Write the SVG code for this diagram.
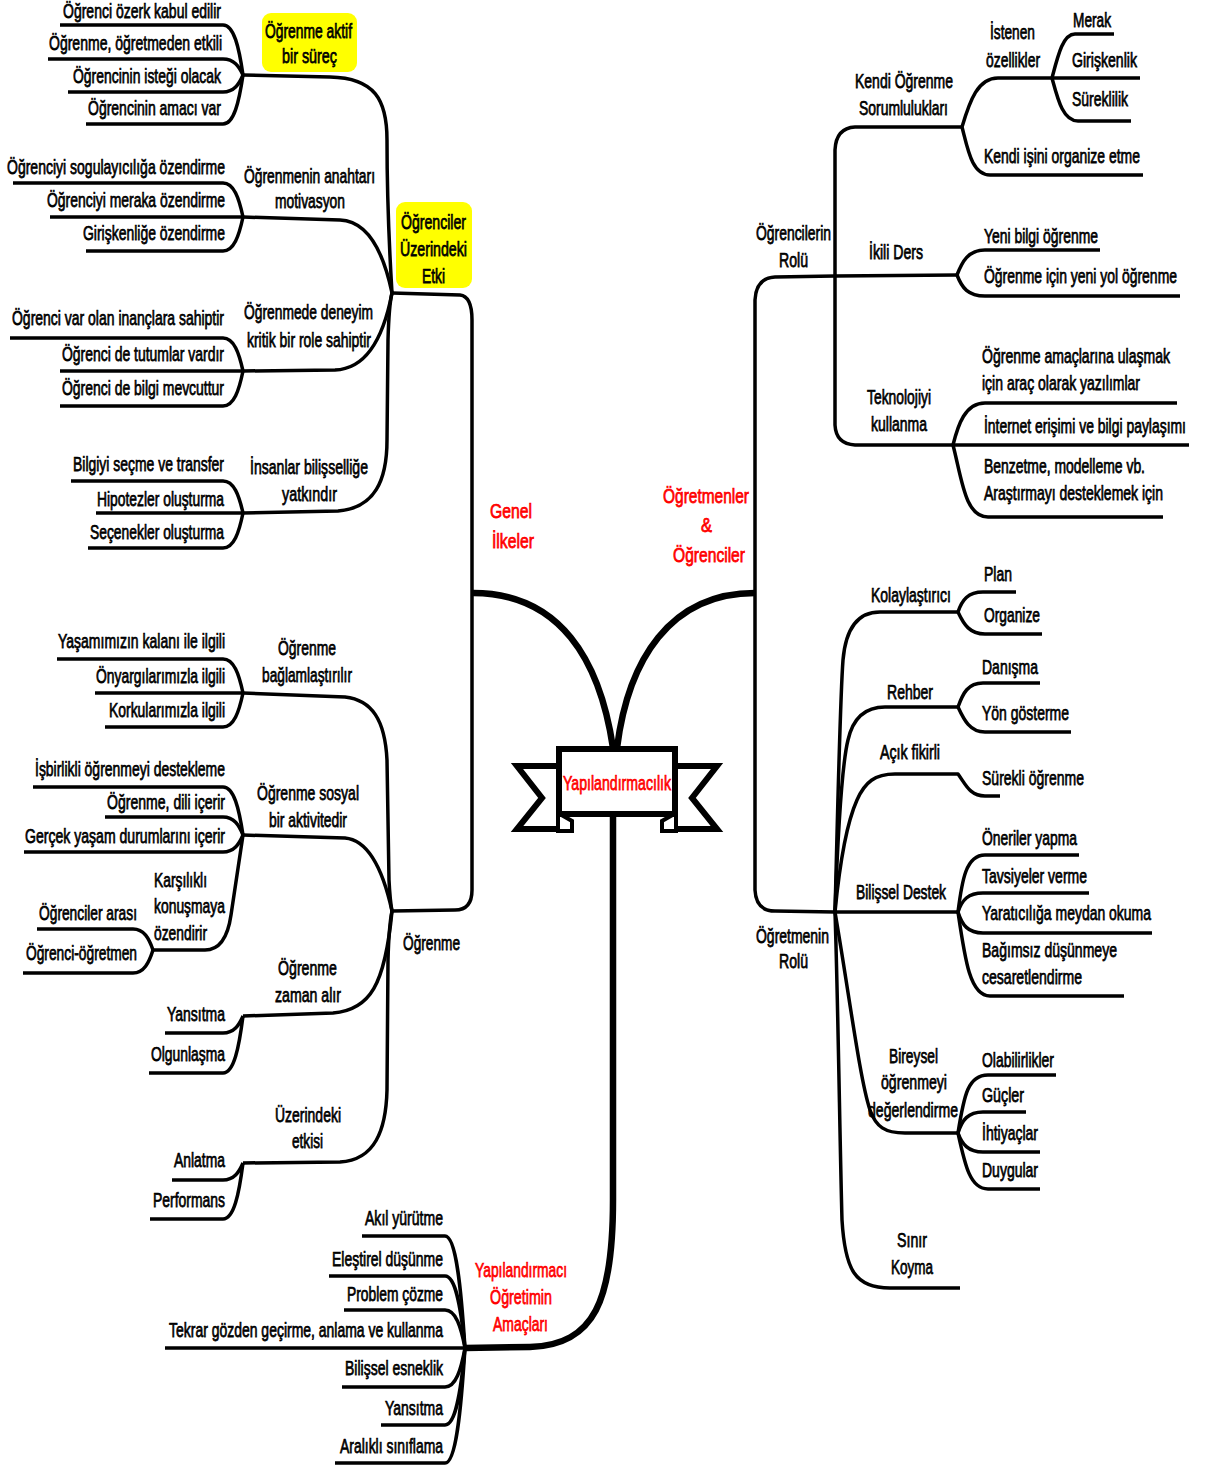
<svg xmlns="http://www.w3.org/2000/svg" width="1214" height="1465" viewBox="0 0 1214 1465">
<style>
  .t { font-family: "Liberation Sans", Arial, sans-serif; font-size: 20.5px; fill: #000; stroke: #000; stroke-width: 0.75px; }
  .r { fill: #f00; stroke: #f00; }
  .c { fill: none; stroke: #000; stroke-width: 3.5; stroke-linejoin: round; }
  .k { fill: none; stroke: #000; stroke-width: 6.5; }
  .hl { fill: #ff0; }
  .tail { fill: #fff; stroke: #000; stroke-width: 6; stroke-linejoin: miter; }
  .fold { fill: #fff; stroke: #000; stroke-width: 4; }
</style>
<rect width="1214" height="1465" fill="#fff"/>

<!-- connectors -->
<g id="connectors">
  <!-- thick main branches -->
  <path class="k" d="M473,593 C560,593 600,660 613,748"/>
  <path class="k" d="M755,593 C670,593 628,660 617,748"/>
  <path class="k" d="M613,815 L613,1200 C613,1300 595,1345 530,1347 L465,1348"/>

  <!-- Genel İlkeler spine -->
  <path class="c" d="M392,293 L460,295 C469,296 472,305 472,320 L472,890 C472,904 466,910 455,910 L392,911"/>

  <!-- Öğrenciler Üzerindeki Etki -->
  <path class="c" d="M243,75 L330,77 C375,78 387,100 387,140 C387,200 390,260 392,293"/>
  <path class="c" d="M243,217 L340,220 C365,221 382,245 392,293"/>
  <path class="c" d="M243,371 L335,370 C365,369 383,340 392,293"/>
  <path class="c" d="M243,513 L338,511 C375,508 387,480 387,440 L388,340 Q389,305 392,293"/>

  <path class="c" d="M60,25 H223 C234,25 239,47.5 243,75"/>
  <path class="c" d="M48,59 H223 C234,59 239,66.2 243,75"/>
  <path class="c" d="M68,92 H223 C234,92 239,84.4 243,75"/>
  <path class="c" d="M86,124 H223 C234,124 239,101.9 243,75"/>

  <path class="c" d="M13,183 H223 C234,183 239,198.3 243,217"/>
  <path class="c" d="M50,217 H243"/>
  <path class="c" d="M86,251 H223 C234,251 239,235.7 243,217"/>

  <path class="c" d="M10,338 H223 C234,338 239,352.9 243,371"/>
  <path class="c" d="M60,371 H243"/>
  <path class="c" d="M60,406 H223 C234,406 239,390.3 243,371"/>

  <path class="c" d="M71,481 H223 C234,481 239,495.4 243,513"/>
  <path class="c" d="M96,513 H243"/>
  <path class="c" d="M88,548 H223 C234,548 239,532.3 243,513"/>

  <!-- Öğrenme -->
  <path class="c" d="M243,693 L345,697 C372,700 385,720 387,760 L389,880 Q390,900 392,911"/>
  <path class="c" d="M243,835 L345,838 C368,840 383,870 392,911"/>
  <path class="c" d="M243,1016 L333,1013 C370,1010 385,985 392,911"/>
  <path class="c" d="M243,1163 L340,1162 C375,1160 386,1130 387,1090 L388,960 Q389,925 392,911"/>

  <path class="c" d="M57,659 H223 C234,659 239,674.3 243,693"/>
  <path class="c" d="M95,693 H243"/>
  <path class="c" d="M105,727 H223 C234,727 239,711.7 243,693"/>

  <path class="c" d="M33,787 H223 C234,787 239,808.6 243,835"/>
  <path class="c" d="M105,817 H223 C234,817 239,825.1 243,835"/>
  <path class="c" d="M24,852 H223 C234,852 239,844.4 243,835"/>
  <path class="c" d="M243,835 L231,915 Q226,950 205,950 L153,950"/>
  <path class="c" d="M37,929 H133 C144,929 149,938.5 153,950"/>
  <path class="c" d="M23,973 H133 C144,973 149,962.7 153,950"/>

  <path class="c" d="M165,1033 H223 C234,1033 239,1025.4 243,1016"/>
  <path class="c" d="M149,1073 H223 C234,1073 239,1047.4 243,1016"/>

  <path class="c" d="M172,1180 H223 C234,1180 239,1172.4 243,1163"/>
  <path class="c" d="M150,1219 H223 C234,1219 239,1193.8 243,1163"/>

  <!-- Yapılandırmacı Öğretimin Amaçları -->
  <path class="c" d="M362,1236 H445 C456,1236 461,1286.4 465,1348"/>
  <path class="c" d="M329,1276 H445 C456,1276 461,1308.4 465,1348"/>
  <path class="c" d="M344,1310 H445 C456,1310 461,1327.1 465,1348"/>
  <path class="c" d="M165,1348 H465"/>
  <path class="c" d="M342,1387 H445 C456,1387 461,1369.5 465,1348"/>
  <path class="c" d="M381,1425 H445 C456,1425 461,1390.4 465,1348"/>
  <path class="c" d="M335,1463 H445 C456,1463 461,1411.3 465,1348"/>

  <!-- Öğretmenler & Öğrenciler spine -->
  <path class="c" d="M835,276 L775,277 Q756,278 755,300 L755,890 Q756,911 775,911 L835,912"/>

  <!-- Öğrencilerin Rolü -->
  <path class="c" d="M963,127 L855,127 Q836,128 835,150 L835,425 Q836,444 855,445 L953,445"/>
  <path class="c" d="M835,276 L957,275"/>
  <path class="c" d="M962,127 C970,100 978,78 998,78 L1140,78"/>
  <path class="c" d="M1052,78 C1058,55 1063,34 1075,34 L1114,34"/>
  <path class="c" d="M1052,78 C1058,100 1063,121 1078,121 L1131,121"/>
  <path class="c" d="M962,127 C968,150 972,175 990,175 L1143,175"/>
  <path class="c" d="M957,275 C962,262 968,250 985,250 L1100,250"/>
  <path class="c" d="M957,275 C962,288 968,296 985,296 L1180,296"/>
  <path class="c" d="M953,445 C958,425 965,403 985,403 L1177,403"/>
  <path class="c" d="M953,445 L1189,445"/>
  <path class="c" d="M953,445 C962,480 965,517 988,517 L1163,517"/>

  <!-- Öğretmenin Rolü -->
  <path class="c" d="M835,912 C838,800 840,700 843,660 C846,625 860,612 880,612 L958,612"/>
  <path class="c" d="M958,612 C962,600 968,592 983,592 L1016,592"/>
  <path class="c" d="M958,612 C964,625 970,634 985,634 L1042,634"/>
  <path class="c" d="M835,912 C838,830 843,760 848,740 C853,718 865,707 885,707 L958,707"/>
  <path class="c" d="M958,707 C963,693 968,683 983,683 L1040,683"/>
  <path class="c" d="M958,707 C964,720 970,732 985,732 L1071,732"/>
  <path class="c" d="M835,912 C840,860 848,820 857,800 C865,782 875,774 895,774 L958,774 C966,785 970,796 985,796 L1000,796"/>
  <path class="c" d="M835,912 L958,912"/>
  <path class="c" d="M958,912 C962,880 966,855 985,855 L1079,855"/>
  <path class="c" d="M958,912 C962,900 968,893 983,893 L1089,893"/>
  <path class="c" d="M958,912 C962,925 968,933 983,933 L1152,933"/>
  <path class="c" d="M958,912 C965,960 970,996 990,996 L1124,996"/>
  <path class="c" d="M835,912 C850,1000 860,1080 870,1110 C876,1127 885,1133 905,1133 L958,1133"/>
  <path class="c" d="M958,1133 C964,1095 968,1075 988,1075 L1056,1075"/>
  <path class="c" d="M958,1133 C962,1120 968,1112 983,1112 L1026,1112"/>
  <path class="c" d="M958,1133 C962,1144 968,1152 983,1152 L1040,1152"/>
  <path class="c" d="M958,1133 C965,1165 970,1189 988,1189 L1040,1189"/>
  <path class="c" d="M835,912 C838,1000 840,1150 842,1220 C845,1270 855,1288 890,1288 L960,1288"/>
</g>

<!-- central banner -->
<g id="root">
  <polygon class="tail" points="517,766 560,766 560,829 517,829 542,798"/>
  <polygon class="tail" points="717,766 674,766 674,829 717,829 692,798"/>
  <polygon class="fold" points="558,813 572,821 572,831 558,831"/>
  <polygon class="fold" points="676,813 662,821 662,831 676,831"/>
  <rect x="559" y="749" width="116" height="65" fill="#fff" stroke="#000" stroke-width="6"/>
  <text class="t r" x="563" y="790" textLength="108" lengthAdjust="spacingAndGlyphs">Yapılandırmacılık</text>
</g>

<!-- main branch titles -->
<g id="genel-ilkeler">
  <text class="t r" x="490" y="518" textLength="42" lengthAdjust="spacingAndGlyphs">Genel</text>
  <text class="t r" x="492" y="548" textLength="42" lengthAdjust="spacingAndGlyphs">İlkeler</text>
</g>
<g id="ogretmenler-ogrenciler">
  <text class="t r" x="663" y="503" textLength="86" lengthAdjust="spacingAndGlyphs">Öğretmenler</text>
  <text class="t r" x="701" y="532" textLength="11" lengthAdjust="spacingAndGlyphs">&amp;</text>
  <text class="t r" x="673" y="562" textLength="72" lengthAdjust="spacingAndGlyphs">Öğrenciler</text>
</g>
<g id="amaclar">
  <text class="t r" x="475" y="1277" textLength="92" lengthAdjust="spacingAndGlyphs">Yapılandırmacı</text>
  <text class="t r" x="490" y="1304" textLength="62" lengthAdjust="spacingAndGlyphs">Öğretimin</text>
  <text class="t r" x="493" y="1331" textLength="55" lengthAdjust="spacingAndGlyphs">Amaçları</text>
</g>

<!-- Öğrenciler Üzerindeki Etki -->
<g id="ogrenciler-uzerindeki-etki">
  <rect class="hl" x="396" y="202" width="76" height="86" rx="9"/>
  <text class="t" x="401" y="229" textLength="65" lengthAdjust="spacingAndGlyphs">Öğrenciler</text>
  <text class="t" x="400" y="256" textLength="67" lengthAdjust="spacingAndGlyphs">Üzerindeki</text>
  <text class="t" x="422" y="283" textLength="23" lengthAdjust="spacingAndGlyphs">Etki</text>
</g>
<g id="ogrenme-aktif">
  <rect class="hl" x="262" y="13" width="95" height="59" rx="9"/>
  <text class="t" x="265" y="38" textLength="87" lengthAdjust="spacingAndGlyphs">Öğrenme aktif</text>
  <text class="t" x="282" y="63" textLength="55" lengthAdjust="spacingAndGlyphs">bir süreç</text>
</g>
<g id="aktif-1"><text class="t" x="63" y="18" textLength="158" lengthAdjust="spacingAndGlyphs">Öğrenci özerk kabul edilir</text></g>
<g id="aktif-2"><text class="t" x="49" y="50" textLength="173" lengthAdjust="spacingAndGlyphs">Öğrenme, öğretmeden etkili</text></g>
<g id="aktif-3"><text class="t" x="73" y="83" textLength="148" lengthAdjust="spacingAndGlyphs">Öğrencinin isteği olacak</text></g>
<g id="aktif-4"><text class="t" x="88" y="115" textLength="133" lengthAdjust="spacingAndGlyphs">Öğrencinin amacı var</text></g>

<g id="motivasyon">
  <text class="t" x="244" y="183" textLength="131" lengthAdjust="spacingAndGlyphs">Öğrenmenin anahtarı</text>
  <text class="t" x="275" y="208" textLength="70" lengthAdjust="spacingAndGlyphs">motivasyon</text>
</g>
<g id="motiv-1"><text class="t" x="7" y="174" textLength="218" lengthAdjust="spacingAndGlyphs">Öğrenciyi sogulayıcılığa özendirme</text></g>
<g id="motiv-2"><text class="t" x="47" y="207" textLength="178" lengthAdjust="spacingAndGlyphs">Öğrenciyi meraka özendirme</text></g>
<g id="motiv-3"><text class="t" x="83" y="240" textLength="142" lengthAdjust="spacingAndGlyphs">Girişkenliğe özendirme</text></g>

<g id="deneyim">
  <text class="t" x="244" y="319" textLength="129" lengthAdjust="spacingAndGlyphs">Öğrenmede deneyim</text>
  <text class="t" x="247" y="347" textLength="124" lengthAdjust="spacingAndGlyphs">kritik bir role sahiptir</text>
</g>
<g id="deneyim-1"><text class="t" x="12" y="325" textLength="212" lengthAdjust="spacingAndGlyphs">Öğrenci var olan inançlara sahiptir</text></g>
<g id="deneyim-2"><text class="t" x="62" y="361" textLength="162" lengthAdjust="spacingAndGlyphs">Öğrenci de tutumlar vardır</text></g>
<g id="deneyim-3"><text class="t" x="62" y="395" textLength="162" lengthAdjust="spacingAndGlyphs">Öğrenci de bilgi mevcuttur</text></g>

<g id="bilissellik">
  <text class="t" x="250" y="474" textLength="118" lengthAdjust="spacingAndGlyphs">İnsanlar bilişselliğe</text>
  <text class="t" x="282" y="501" textLength="55" lengthAdjust="spacingAndGlyphs">yatkındır</text>
</g>
<g id="bilissellik-1"><text class="t" x="73" y="471" textLength="151" lengthAdjust="spacingAndGlyphs">Bilgiyi seçme ve transfer</text></g>
<g id="bilissellik-2"><text class="t" x="97" y="506" textLength="127" lengthAdjust="spacingAndGlyphs">Hipotezler oluşturma</text></g>
<g id="bilissellik-3"><text class="t" x="90" y="539" textLength="134" lengthAdjust="spacingAndGlyphs">Seçenekler oluşturma</text></g>

<!-- Öğrenme -->
<g id="ogrenme"><text class="t" x="403" y="950" textLength="57" lengthAdjust="spacingAndGlyphs">Öğrenme</text></g>

<g id="baglam">
  <text class="t" x="278" y="655" textLength="58" lengthAdjust="spacingAndGlyphs">Öğrenme</text>
  <text class="t" x="262" y="682" textLength="90" lengthAdjust="spacingAndGlyphs">bağlamlaştırılır</text>
</g>
<g id="baglam-1"><text class="t" x="58" y="648" textLength="167" lengthAdjust="spacingAndGlyphs">Yaşamımızın kalanı ile ilgili</text></g>
<g id="baglam-2"><text class="t" x="96" y="683" textLength="129" lengthAdjust="spacingAndGlyphs">Önyargılarımızla ilgili</text></g>
<g id="baglam-3"><text class="t" x="109" y="717" textLength="116" lengthAdjust="spacingAndGlyphs">Korkularımızla ilgili</text></g>

<g id="sosyal">
  <text class="t" x="257" y="800" textLength="102" lengthAdjust="spacingAndGlyphs">Öğrenme sosyal</text>
  <text class="t" x="269" y="827" textLength="78" lengthAdjust="spacingAndGlyphs">bir aktivitedir</text>
</g>
<g id="sosyal-1"><text class="t" x="35" y="776" textLength="190" lengthAdjust="spacingAndGlyphs">İşbirlikli öğrenmeyi destekleme</text></g>
<g id="sosyal-2"><text class="t" x="107" y="809" textLength="118" lengthAdjust="spacingAndGlyphs">Öğrenme, dili içerir</text></g>
<g id="sosyal-3"><text class="t" x="25" y="843" textLength="200" lengthAdjust="spacingAndGlyphs">Gerçek yaşam durumlarını içerir</text></g>
<g id="karsilikli">
  <text class="t" x="154" y="887" textLength="53" lengthAdjust="spacingAndGlyphs">Karşılıklı</text>
  <text class="t" x="154" y="913" textLength="71" lengthAdjust="spacingAndGlyphs">konuşmaya</text>
  <text class="t" x="154" y="940" textLength="53" lengthAdjust="spacingAndGlyphs">özendirir</text>
</g>
<g id="karsilikli-1"><text class="t" x="39" y="920" textLength="98" lengthAdjust="spacingAndGlyphs">Öğrenciler arası</text></g>
<g id="karsilikli-2"><text class="t" x="26" y="960" textLength="111" lengthAdjust="spacingAndGlyphs">Öğrenci-öğretmen</text></g>

<g id="zaman">
  <text class="t" x="278" y="975" textLength="59" lengthAdjust="spacingAndGlyphs">Öğrenme</text>
  <text class="t" x="275" y="1002" textLength="66" lengthAdjust="spacingAndGlyphs">zaman alır</text>
</g>
<g id="zaman-1"><text class="t" x="167" y="1021" textLength="58" lengthAdjust="spacingAndGlyphs">Yansıtma</text></g>
<g id="zaman-2"><text class="t" x="151" y="1061" textLength="74" lengthAdjust="spacingAndGlyphs">Olgunlaşma</text></g>

<g id="etkisi">
  <text class="t" x="275" y="1122" textLength="66" lengthAdjust="spacingAndGlyphs">Üzerindeki</text>
  <text class="t" x="292" y="1148" textLength="31" lengthAdjust="spacingAndGlyphs">etkisi</text>
</g>
<g id="etkisi-1"><text class="t" x="174" y="1167" textLength="51" lengthAdjust="spacingAndGlyphs">Anlatma</text></g>
<g id="etkisi-2"><text class="t" x="153" y="1207" textLength="72" lengthAdjust="spacingAndGlyphs">Performans</text></g>

<!-- Amaçlar children -->
<g id="amac-1"><text class="t" x="365" y="1225" textLength="78" lengthAdjust="spacingAndGlyphs">Akıl yürütme</text></g>
<g id="amac-2"><text class="t" x="332" y="1266" textLength="111" lengthAdjust="spacingAndGlyphs">Eleştirel düşünme</text></g>
<g id="amac-3"><text class="t" x="347" y="1301" textLength="96" lengthAdjust="spacingAndGlyphs">Problem çözme</text></g>
<g id="amac-4"><text class="t" x="169" y="1337" textLength="274" lengthAdjust="spacingAndGlyphs">Tekrar gözden geçirme, anlama ve kullanma</text></g>
<g id="amac-5"><text class="t" x="345" y="1375" textLength="98" lengthAdjust="spacingAndGlyphs">Bilişsel esneklik</text></g>
<g id="amac-6"><text class="t" x="385" y="1415" textLength="58" lengthAdjust="spacingAndGlyphs">Yansıtma</text></g>
<g id="amac-7"><text class="t" x="340" y="1453" textLength="103" lengthAdjust="spacingAndGlyphs">Aralıklı sınıflama</text></g>

<!-- Öğrencilerin Rolü -->
<g id="ogrencilerin-rolu">
  <text class="t" x="756" y="240" textLength="75" lengthAdjust="spacingAndGlyphs">Öğrencilerin</text>
  <text class="t" x="779" y="267" textLength="29" lengthAdjust="spacingAndGlyphs">Rolü</text>
</g>
<g id="sorumluluk">
  <text class="t" x="855" y="88" textLength="98" lengthAdjust="spacingAndGlyphs">Kendi Öğrenme</text>
  <text class="t" x="859" y="115" textLength="89" lengthAdjust="spacingAndGlyphs">Sorumlulukları</text>
</g>
<g id="istenen">
  <text class="t" x="990" y="39" textLength="45" lengthAdjust="spacingAndGlyphs">İstenen</text>
  <text class="t" x="986" y="67" textLength="54" lengthAdjust="spacingAndGlyphs">özellikler</text>
</g>
<g id="istenen-1"><text class="t" x="1073" y="27" textLength="38" lengthAdjust="spacingAndGlyphs">Merak</text></g>
<g id="istenen-2"><text class="t" x="1072" y="67" textLength="65" lengthAdjust="spacingAndGlyphs">Girişkenlik</text></g>
<g id="istenen-3"><text class="t" x="1072" y="106" textLength="56" lengthAdjust="spacingAndGlyphs">Süreklilik</text></g>
<g id="organize-etme"><text class="t" x="984" y="163" textLength="156" lengthAdjust="spacingAndGlyphs">Kendi işini organize etme</text></g>

<g id="ikili-ders"><text class="t" x="869" y="259" textLength="54" lengthAdjust="spacingAndGlyphs">İkili Ders</text></g>
<g id="ikili-1"><text class="t" x="984" y="243" textLength="114" lengthAdjust="spacingAndGlyphs">Yeni bilgi öğrenme</text></g>
<g id="ikili-2"><text class="t" x="984" y="283" textLength="193" lengthAdjust="spacingAndGlyphs">Öğrenme için yeni yol öğrenme</text></g>

<g id="teknoloji">
  <text class="t" x="867" y="404" textLength="64" lengthAdjust="spacingAndGlyphs">Teknolojiyi</text>
  <text class="t" x="871" y="431" textLength="56" lengthAdjust="spacingAndGlyphs">kullanma</text>
</g>
<g id="teknoloji-1">
  <text class="t" x="982" y="363" textLength="188" lengthAdjust="spacingAndGlyphs">Öğrenme amaçlarına ulaşmak</text>
  <text class="t" x="982" y="390" textLength="158" lengthAdjust="spacingAndGlyphs">için araç olarak yazılımlar</text>
</g>
<g id="teknoloji-2"><text class="t" x="984" y="433" textLength="202" lengthAdjust="spacingAndGlyphs">İnternet erişimi ve bilgi paylaşımı</text></g>
<g id="teknoloji-3">
  <text class="t" x="984" y="473" textLength="161" lengthAdjust="spacingAndGlyphs">Benzetme, modelleme vb.</text>
  <text class="t" x="984" y="500" textLength="179" lengthAdjust="spacingAndGlyphs">Araştırmayı desteklemek için</text>
</g>

<!-- Öğretmenin Rolü -->
<g id="ogretmenin-rolu">
  <text class="t" x="756" y="943" textLength="73" lengthAdjust="spacingAndGlyphs">Öğretmenin</text>
  <text class="t" x="779" y="968" textLength="29" lengthAdjust="spacingAndGlyphs">Rolü</text>
</g>
<g id="kolaylastirici"><text class="t" x="871" y="602" textLength="80" lengthAdjust="spacingAndGlyphs">Kolaylaştırıcı</text></g>
<g id="kolay-1"><text class="t" x="984" y="581" textLength="28" lengthAdjust="spacingAndGlyphs">Plan</text></g>
<g id="kolay-2"><text class="t" x="984" y="622" textLength="56" lengthAdjust="spacingAndGlyphs">Organize</text></g>
<g id="rehber"><text class="t" x="887" y="699" textLength="46" lengthAdjust="spacingAndGlyphs">Rehber</text></g>
<g id="rehber-1"><text class="t" x="982" y="674" textLength="56" lengthAdjust="spacingAndGlyphs">Danışma</text></g>
<g id="rehber-2"><text class="t" x="982" y="720" textLength="87" lengthAdjust="spacingAndGlyphs">Yön gösterme</text></g>
<g id="acik-fikirli"><text class="t" x="880" y="759" textLength="60" lengthAdjust="spacingAndGlyphs">Açık fikirli</text></g>
<g id="acik-1"><text class="t" x="982" y="785" textLength="102" lengthAdjust="spacingAndGlyphs">Sürekli öğrenme</text></g>
<g id="bilissel-destek"><text class="t" x="856" y="899" textLength="90" lengthAdjust="spacingAndGlyphs">Bilişsel Destek</text></g>
<g id="destek-1"><text class="t" x="982" y="845" textLength="95" lengthAdjust="spacingAndGlyphs">Öneriler yapma</text></g>
<g id="destek-2"><text class="t" x="982" y="883" textLength="105" lengthAdjust="spacingAndGlyphs">Tavsiyeler verme</text></g>
<g id="destek-3"><text class="t" x="982" y="920" textLength="169" lengthAdjust="spacingAndGlyphs">Yaratıcılığa meydan okuma</text></g>
<g id="destek-4">
  <text class="t" x="982" y="957" textLength="135" lengthAdjust="spacingAndGlyphs">Bağımsız düşünmeye</text>
  <text class="t" x="982" y="984" textLength="100" lengthAdjust="spacingAndGlyphs">cesaretlendirme</text>
</g>
<g id="bireysel">
  <text class="t" x="889" y="1063" textLength="49" lengthAdjust="spacingAndGlyphs">Bireysel</text>
  <text class="t" x="881" y="1089" textLength="66" lengthAdjust="spacingAndGlyphs">öğrenmeyi</text>
  <text class="t" x="868" y="1117" textLength="90" lengthAdjust="spacingAndGlyphs">değerlendirme</text>
</g>
<g id="bireysel-1"><text class="t" x="982" y="1067" textLength="72" lengthAdjust="spacingAndGlyphs">Olabilirlikler</text></g>
<g id="bireysel-2"><text class="t" x="982" y="1102" textLength="42" lengthAdjust="spacingAndGlyphs">Güçler</text></g>
<g id="bireysel-3"><text class="t" x="982" y="1140" textLength="56" lengthAdjust="spacingAndGlyphs">İhtiyaçlar</text></g>
<g id="bireysel-4"><text class="t" x="982" y="1177" textLength="56" lengthAdjust="spacingAndGlyphs">Duygular</text></g>
<g id="sinir-koyma">
  <text class="t" x="897" y="1247" textLength="30" lengthAdjust="spacingAndGlyphs">Sınır</text>
  <text class="t" x="891" y="1274" textLength="42" lengthAdjust="spacingAndGlyphs">Koyma</text>
</g>
</svg>
